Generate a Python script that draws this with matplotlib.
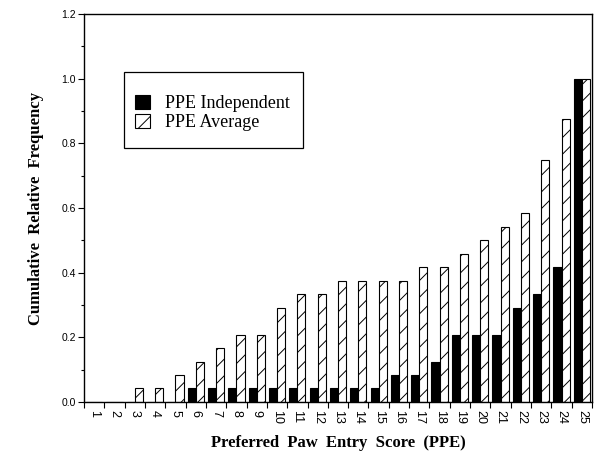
import matplotlib
matplotlib.use("Agg")
import matplotlib.pyplot as plt
import numpy as np
from matplotlib.ticker import MultipleLocator
from matplotlib.patches import Rectangle

# cumulative relative frequencies (n = 24)
scores = list(range(1, 26))
ppe_independent = [0, 0, 0, 0, 0, 0.042, 0.042, 0.042, 0.042, 0.042,
                   0.042, 0.042, 0.042, 0.042, 0.042, 0.083, 0.083, 0.125,
                   0.208, 0.208, 0.208, 0.292, 0.333, 0.417, 1.0]
ppe_average = [0, 0, 0.042, 0.042, 0.083, 0.125, 0.167, 0.208, 0.208, 0.292,
               0.333, 0.333, 0.375, 0.375, 0.375, 0.375, 0.417, 0.417, 0.458,
               0.5, 0.542, 0.583, 0.75, 0.875, 1.0]

plt.rcParams['hatch.linewidth'] = 0.7
serif = 'Liberation Serif'
sans = 'Liberation Sans'

fig = plt.figure(figsize=(5.97, 4.58), dpi=100)
ax = fig.add_axes([0.1407, 0.1223, 0.8509, 0.8471])

x = np.array(scores, dtype=float)
w = 0.4
ax.bar(x - w/2, ppe_independent, width=w, color='black', edgecolor='black',
       linewidth=0.8, label='PPE Independent')
ax.bar(x + w/2, ppe_average, width=w, color='white', edgecolor='black',
       linewidth=0.8, hatch='//', label='PPE Average')

ax.set_xlim(0.5, 25.5)
ax.set_ylim(0, 1.2)
ax.yaxis.set_major_locator(MultipleLocator(0.2))
ax.yaxis.set_minor_locator(MultipleLocator(0.1))
ax.set_yticklabels([f'{v:.1f}' for v in ax.get_yticks()], fontfamily=sans, fontsize=7.5)
ax.tick_params(axis='y', which='major', direction='out', length=4, width=0.8, pad=2)
ax.tick_params(axis='y', which='minor', direction='out', length=2.5, width=0.8)

# category boundary ticks, labels centred under each category
ax.set_xticks(np.arange(0.5, 26.0, 1.0))
ax.set_xticklabels([])
ax.set_xticks(x, minor=True)
ax.set_xticklabels([str(s) for s in scores], minor=True, rotation=270,
                   fontfamily=sans, fontsize=9)
ax.tick_params(axis='x', which='major', direction='out', length=4, width=0.8)
ax.tick_params(axis='x', which='minor', length=0, pad=6)

for s in ax.spines.values():
    s.set_linewidth(1.0)

ax.set_ylabel('Cumulative  Relative  Frequency', fontfamily=serif,
              fontweight='bold', fontsize=12, labelpad=12)
ax.set_xlabel('Preferred  Paw  Entry  Score  (PPE)', fontfamily=serif,
              fontweight='bold', fontsize=12, labelpad=8)

# legend box
ax.add_patch(Rectangle((0.0787, 0.6546), 0.352, 0.196, transform=ax.transAxes,
                       facecolor='white', edgecolor='black', linewidth=0.9,
                       zorder=4))
leg = ax.legend(loc='center left', bbox_to_anchor=(0.0787, 0.745),
                prop={'family': serif, 'size': 13}, frameon=False,
                borderaxespad=0, borderpad=0.6,
                handlelength=0.85, handleheight=0.85, handletextpad=0.8,
                labelspacing=0.1)
leg.set_zorder(5)

fig.savefig('out.png', dpi=100)
